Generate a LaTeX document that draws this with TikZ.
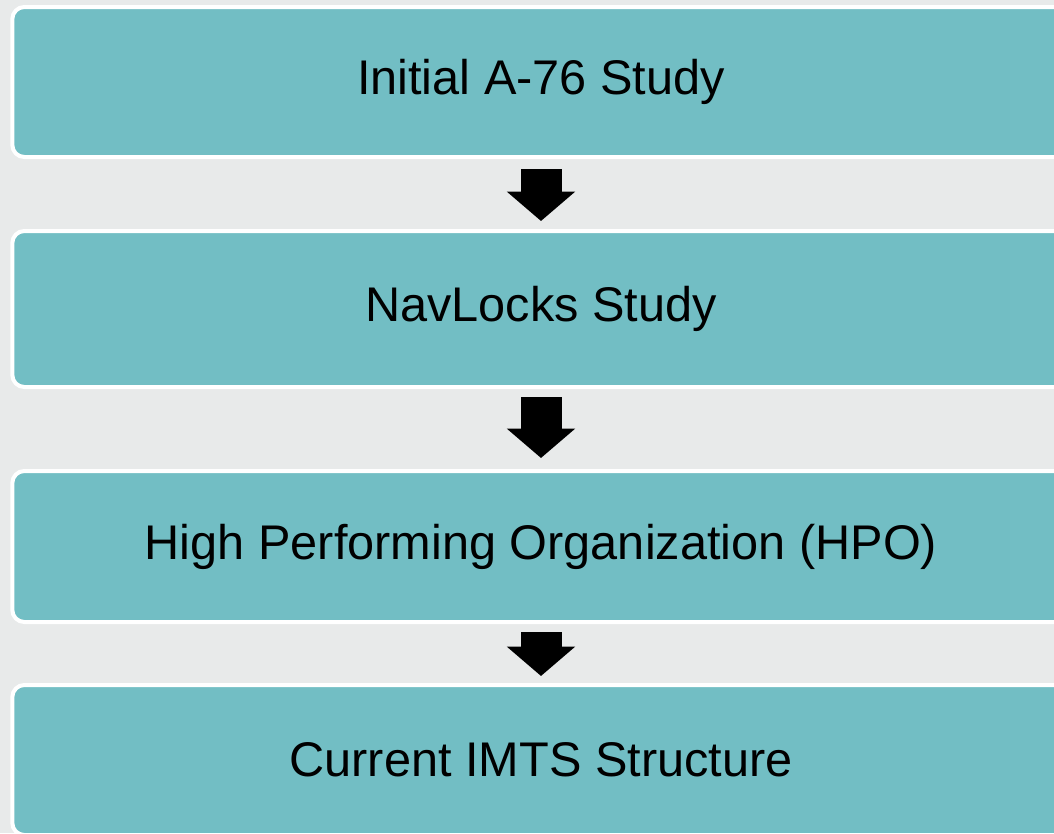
\documentclass[tikz,border=0pt]{standalone}
\usepackage{fontspec}
\setmainfont{Liberation Sans}
\usetikzlibrary{arrows.meta}
\definecolor{stageteal}{RGB}{114,190,196}
\definecolor{backgray}{RGB}{232,234,234}
\begin{document}
\begin{tikzpicture}[
    x=0.75pt, y=-0.75pt,
    stage/.style={rectangle, draw=white, line width=3pt, fill=stageteal, rounded corners=9pt, minimum width=793pt, align=center, font=\fontsize{36.5}{44}\selectfont},
    flow/.style={line width=30.75pt, -{Triangle[length=22pt, width=50pt]}}
]
\clip (0,0) rectangle (1054,833);
\fill[backgray] (0,0) rectangle (1054,833);

% Stages
\node[stage, minimum height=112.5pt] (initial) at (541,82) {Initial A-76 Study};
\node[stage, minimum height=117pt] (navlocks) at (541,309) {NavLocks Study};
\node[stage, minimum height=113.25pt] (hpo) at (541,546.5) {High Performing Organization (HPO)};
\node[stage, minimum height=112.5pt] (imts) at (541,760) {Current IMTS Structure};

% Flow
\draw[flow] ([yshift=-7.5pt]initial.south) -- ([yshift=6pt]navlocks.north);
\draw[flow] ([yshift=-6pt]navlocks.south) -- ([yshift=8.25pt]hpo.north);
\draw[flow] ([yshift=-6pt]hpo.south) -- ([yshift=5.25pt]imts.north);

\end{tikzpicture}
\end{document}
